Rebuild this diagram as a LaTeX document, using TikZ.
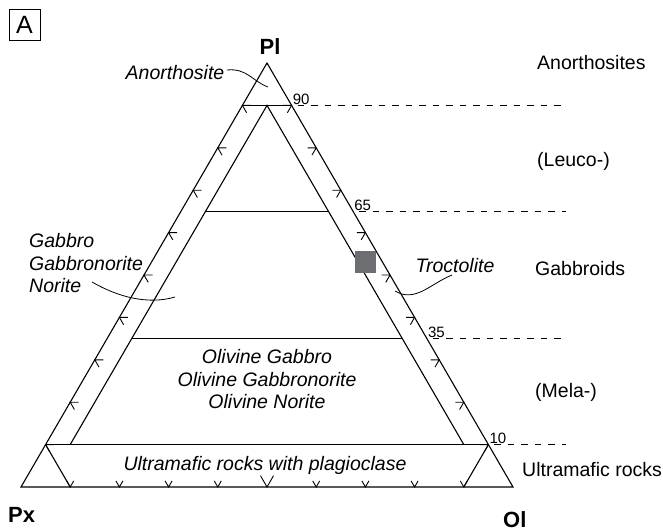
\documentclass[tikz,border=0pt]{standalone}
\usepackage{fontspec}
\setmainfont{Liberation Sans}
\usetikzlibrary{calc}

\definecolor{samplegray}{HTML}{6D6E71}

\begin{document}
\begin{tikzpicture}[x=1pt, y=-1pt,
    side/.style={line width=1.1pt},
    guide/.style={line width=0.9pt, dash pattern=on 6.5pt off 7pt},
    tick/.style={line width=0.9pt},
    leader/.style={line width=0.8pt},
    lbl/.style={font=\fontsize{19.5}{22.5}\selectfont, inner sep=0pt},
    rocklbl/.style={font=\fontsize{19.5}{22.5}\selectfont\itshape, inner sep=0pt},
    pct/.style={font=\fontsize{15}{15}\selectfont, inner sep=1pt, anchor=south west},
    apexlbl/.style={font=\fontsize{22}{22}\selectfont\bfseries, inner sep=0pt}]
  \useasboundingbox (0,0) rectangle (663,532);

  % corners of the ternary
  \coordinate (Pl) at (267,63);
  \coordinate (Px) at (21,487);
  \coordinate (Ol) at (513,487);
  \coordinate (dEnd) at (566,0);

  % points on the sides
  \coordinate (l90) at ($(Px)!0.9!(Pl)$);
  \coordinate (l10) at ($(Px)!0.1!(Pl)$);
  \coordinate (b10) at ($(Px)!0.1!(Ol)$);
  \coordinate (b90) at ($(Px)!0.9!(Ol)$);
  \coordinate (iT) at ($(l90)!0.5!($(Ol)!0.9!(Pl)$)$);
  \coordinate (iL) at (b10 |- l10);
  \coordinate (iR) at (b90 |- l10);

  \draw[side] (Px) -- (Ol) -- (Pl) -- cycle;
  \draw[side] (iL) -- (iT) -- (iR);
  \draw[side] ($(iL)!0.6875!(iT)$) -- ($(iR)!0.6875!(iT)$);
  \draw[side] ($(iL)!0.3125!(iT)$) -- ($(iR)!0.3125!(iT)$);

  % percentage lines
  \foreach \p/\v in {90/0.9, 65/0.65, 35/0.35, 10/0.1} {
    \coordinate (r\p) at ($(Ol)!\v!(Pl)$);
    \node[pct] (n\p) at (r\p) {\p};
    \draw[guide] ([xshift=6pt]r\p) -- (r\p -| dEnd);
  }
  \draw[side] (l90) -- (r90);
  \draw[side] (l10) -- (r10);
  \draw[side] (l10) -- (b10);
  \draw[side] (r10) -- (b90);

  % chevrons
  \foreach \k/\arm in {1/7,2/7,3/7,4/7,5/13,6/7,7/7,8/7,9/7} {
    \coordinate (tl) at ($(Px)!{\k/10}!(Pl)$);
    \coordinate (tr) at ($(Ol)!{\k/10}!(Pl)$);
    \coordinate (tb) at ($(Px)!{\k/10}!(Ol)$);
    \draw[tick] ($(tl)+(8.5,0)$) -- (tl) -- ++(4.2,7.3);
    \draw[tick] ($(tr)+(-8.5,0)$) -- (tr) -- ++(-4.2,7.3);
    \draw[tick] ($(tb)+({-0.5*\arm},{-0.87*\arm})$) -- (tb) -- ++({0.5*\arm},{-0.87*\arm});
  }

  \node[fill=samplegray, minimum size=21.5pt, inner sep=0pt] (sample) at (365.5,262) {};

  % rock names
  \node[rocklbl, anchor=base] (anor) at (175,79.5) {Anorthosite};
  \node[rocklbl, align=left, anchor=west] (gab) at (29,263.4) {Gabbro\\Gabbronorite\\Norite};
  \node[rocklbl, align=center] (olgab) at (267,379.4) {Olivine Gabbro\\Olivine Gabbronorite\\Olivine Norite};
  \node[rocklbl, anchor=base] (troc) at (455,272) {Troctolite};
  \node[rocklbl, anchor=base] (ultra) at (265,470) {Ultramafic rocks with plagioclase};

  \coordinate (anorA) at (227,70);
  \coordinate (anorB) at (268,87);
  \coordinate (gabA) at (92,282);
  \coordinate (gabB) at (175,297);
  \coordinate (trocA) at (452,275);
  \coordinate (trocB) at (395,291);
  \draw[leader] (anorA) .. controls (247,68) and (252,81) .. (anorB);
  \draw[leader] (gabA) .. controls (118,297) and (148,305) .. (gabB);
  \draw[leader] (trocA) .. controls (430,284) and (415,303) .. (trocB);

  % groups
  \node[lbl, anchor=base west] (anos) at (537,70) {Anorthosites};
  \node[lbl, anchor=base west] (leuco) at (537,166) {(Leuco-)};
  \node[lbl, anchor=base west] (gabbroids) at (535,275) {Gabbroids};
  \node[lbl, anchor=base west] (mela) at (535,397) {(Mela-)};
  \node[lbl, anchor=base west] (ultram) at (522,476) {Ultramafic rocks};

  \node[apexlbl, anchor=base] (plLbl) at (270,55) {Pl};
  \node[apexlbl, anchor=base west] (pxLbl) at (8,522) {Px};
  \node[apexlbl, anchor=base west] (olLbl) at (503,527) {Ol};

  \node[draw, line width=0.9pt, minimum size=31pt, inner sep=0pt,
    font=\fontsize{25}{25}\selectfont] (panel) at (24.5,24.5) {A};
\end{tikzpicture}
\end{document}
